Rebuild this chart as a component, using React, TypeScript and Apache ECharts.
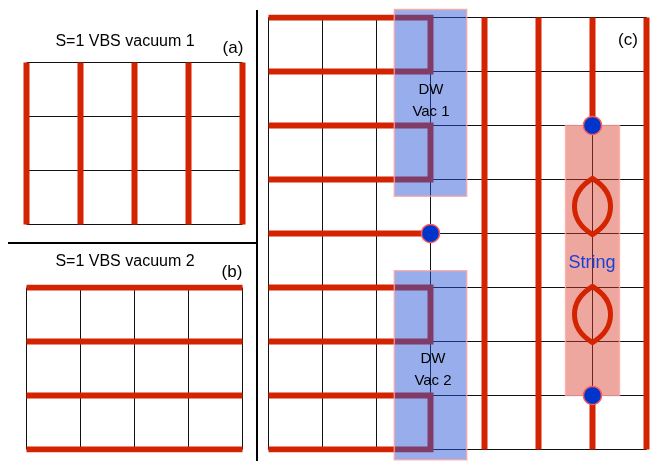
import React, { useEffect, useRef } from "react";
import * as echarts from "echarts";

// Panel (a): vacuum 1, red vertical bonds on lattice columns
const aCols = [0, 1, 2, 3, 4];
const aRows = [0, 1, 2, 3];
const aRedCols = [0, 1, 2, 3, 4];

// Panel (b): vacuum 2, red horizontal bonds on lattice rows
const bCols = [0, 1, 2, 3, 4];
const bRows = [0, 1, 2, 3];
const bRedRows = [0, 1, 2, 3];

// Panel (c): domain walls and string
const cCols = [0, 1, 2, 3, 4, 5, 6, 7];
const cRows = [0, 1, 2, 3, 4, 5, 6, 7, 8];
const cBracketPairs = [
  [0, 1],
  [2, 3],
  [5, 6],
  [7, 8],
];
const cBracketEndCol = 3;
const cOpenRow = 4; // row ending at a dot
const cRedFullCols = [4, 5, 7];
const cStringCol = 6;
const cStringRedSegments = [
  [0, 2],
  [7, 8],
];
const cDots = [
  [3, 4],
  [6, 2],
  [6, 7],
];
const cLenses = [
  [6, 3, 4],
  [6, 5, 6],
];
// [x1, y1, x2, y2]
const dwRects = [
  [2.33, -0.15, 3.67, 3.31],
  [2.33, 4.69, 3.67, 8.19],
];
const stringRects = [[5.5, 2, 6.5, 7]];

const RED = "#d42300";
const GRID = "#111";

function hLines(cols: number[], rows: number[]) {
  const x0 = Math.min(...cols);
  const x1 = Math.max(...cols);
  return rows.map((r) => ({ coords: [[x0, r], [x1, r]] }));
}
function vLines(cols: number[], rows: number[]) {
  const y0 = Math.min(...rows);
  const y1 = Math.max(...rows);
  return cols.map((c) => ({ coords: [[c, y0], [c, y1]] }));
}

function linesSeries(idx: number, data: any[], color: string, width: number, z: number) {
  return {
    type: "lines",
    coordinateSystem: "cartesian2d",
    xAxisIndex: idx,
    yAxisIndex: idx,
    polyline: true,
    silent: true,
    z,
    lineStyle: { color, width, opacity: 1, cap: "butt", join: "miter" },
    data,
  };
}

export default function App() {
  const ref = useRef<HTMLDivElement>(null);
  useEffect(() => {
    if (!ref.current) return;
    const chart = echarts.init(ref.current, null, { renderer: "svg" });

    const cRedData: any[] = [];
    cBracketPairs.forEach(([r1, r2]) => {
      cRedData.push({
        coords: [
          [0, r1],
          [cBracketEndCol, r1],
          [cBracketEndCol, r2],
          [0, r2],
        ],
      });
    });
    cRedData.push({ coords: [[0, cOpenRow], [cBracketEndCol, cOpenRow]] });
    cRedFullCols.forEach((c) => cRedData.push({ coords: [[c, 0], [c, 8]] }));
    cStringRedSegments.forEach(([y0, y1]) =>
      cRedData.push({ coords: [[cStringCol, y0], [cStringCol, y1]] })
    );

    const rectItem = (fill: string, stroke: string) => (params: any, api: any) => {
      const p1 = api.coord([api.value(0), api.value(1)]);
      const p2 = api.coord([api.value(2), api.value(3)]);
      return {
        type: "rect",
        shape: { x: p1[0], y: p1[1], width: p2[0] - p1[0], height: p2[1] - p1[1] },
        style: { fill, stroke, lineWidth: 1.5 },
      };
    };

    const font = "'Liberation Sans', Arial, sans-serif";

    chart.setOption({
      animation: false,
      grid: [
        { left: 26.5, top: 62.5, width: 216, height: 162 },
        { left: 26.5, top: 287.5, width: 216, height: 162 },
        { left: 268.5, top: 17.5, width: 378, height: 432 },
      ],
      xAxis: [
        { type: "value", gridIndex: 0, min: 0, max: 4, show: false },
        { type: "value", gridIndex: 1, min: 0, max: 4, show: false },
        { type: "value", gridIndex: 2, min: 0, max: 7, show: false },
      ],
      yAxis: [
        { type: "value", gridIndex: 0, min: 0, max: 3, inverse: true, show: false },
        { type: "value", gridIndex: 1, min: 0, max: 3, inverse: true, show: false },
        { type: "value", gridIndex: 2, min: 0, max: 8, inverse: true, show: false },
      ],
      series: [
        // panel a
        linesSeries(0, hLines(aCols, aRows), GRID, 1, 1),
        linesSeries(0, vLines(aRedCols, aRows), RED, 6, 2),
        // panel b
        linesSeries(1, vLines(bCols, bRows), GRID, 1, 1),
        linesSeries(1, hLines(bCols, bRedRows), RED, 6, 2),
        // panel c
        linesSeries(2, hLines(cCols, cRows), GRID, 1, 1),
        linesSeries(2, vLines(cCols, cRows), GRID, 1, 1),
        linesSeries(2, cRedData, RED, 6, 2),
        {
          type: "custom",
          xAxisIndex: 2,
          yAxisIndex: 2,
          z: 3,
          silent: true,
          renderItem: rectItem("rgba(215, 60, 40, 0.45)", "rgba(255, 170, 170, 0.8)"),
          data: stringRects,
        },
        {
          type: "custom",
          xAxisIndex: 2,
          yAxisIndex: 2,
          z: 3,
          silent: true,
          renderItem: rectItem("rgba(40, 85, 215, 0.48)", "rgba(255, 160, 160, 0.8)"),
          data: dwRects,
        },
        {
          type: "custom",
          xAxisIndex: 2,
          yAxisIndex: 2,
          z: 4,
          silent: true,
          renderItem: (params: any, api: any) => {
            const x = api.value(0);
            const y0 = api.value(1);
            const y1 = api.value(2);
            const top = api.coord([x, y0]);
            const bot = api.coord([x, y1]);
            const h = bot[1] - top[1];
            const w = 24;
            const c1 = top[1] + h * 0.25;
            const c2 = top[1] + h * 0.75;
            const d = `M${top[0]} ${top[1] - 1} C${top[0] - w} ${c1} ${top[0] - w} ${c2} ${bot[0]} ${bot[1] + 1} C${top[0] + w} ${c2} ${top[0] + w} ${c1} ${top[0]} ${top[1] - 1} Z`;
            return {
              type: "path",
              shape: { pathData: d },
              style: { fill: "none", stroke: RED, lineWidth: 5, lineJoin: "miter" },
            };
          },
          data: cLenses,
        },
        {
          type: "scatter",
          xAxisIndex: 2,
          yAxisIndex: 2,
          z: 5,
          silent: true,
          symbol: "circle",
          symbolSize: 18,
          itemStyle: { color: "#0035cc", borderColor: "#ff5a5a", borderWidth: 1.5, opacity: 1 },
          data: cDots,
        },
      ],
      graphic: [
        { type: "line", shape: { x1: 8, y1: 243, x2: 257, y2: 243 }, style: { stroke: "#000", lineWidth: 2 }, z: 10 },
        { type: "line", shape: { x1: 257, y1: 10, x2: 257, y2: 461 }, style: { stroke: "#000", lineWidth: 2 }, z: 10 },
        { type: "text", x: 125, y: 40, style: { text: "S=1 VBS vacuum 1", font: `16px ${font}`, fill: "#000", textAlign: "center", textVerticalAlign: "middle" }, z: 10 },
        { type: "text", x: 233, y: 47, style: { text: "(a)", font: `17px ${font}`, fill: "#000", textAlign: "center", textVerticalAlign: "middle" }, z: 10 },
        { type: "text", x: 125, y: 260, style: { text: "S=1 VBS vacuum 2", font: `16px ${font}`, fill: "#000", textAlign: "center", textVerticalAlign: "middle" }, z: 10 },
        { type: "text", x: 232, y: 271, style: { text: "(b)", font: `17px ${font}`, fill: "#000", textAlign: "center", textVerticalAlign: "middle" }, z: 10 },
        { type: "text", x: 628, y: 39, style: { text: "(c)", font: `17px ${font}`, fill: "#000", textAlign: "center", textVerticalAlign: "middle" }, z: 10 },
        { type: "text", x: 431, y: 88, style: { text: "DW", font: `15px ${font}`, fill: "#000", textAlign: "center", textVerticalAlign: "middle" }, z: 10 },
        { type: "text", x: 431, y: 110, style: { text: "Vac 1", font: `15px ${font}`, fill: "#000", textAlign: "center", textVerticalAlign: "middle" }, z: 10 },
        { type: "text", x: 433, y: 357, style: { text: "DW", font: `15px ${font}`, fill: "#000", textAlign: "center", textVerticalAlign: "middle" }, z: 10 },
        { type: "text", x: 433, y: 379, style: { text: "Vac 2", font: `15px ${font}`, fill: "#000", textAlign: "center", textVerticalAlign: "middle" }, z: 10 },
        { type: "text", x: 592, y: 262, style: { text: "String", font: `18px ${font}`, fill: "#1a3fd9", textAlign: "center", textVerticalAlign: "middle" }, z: 10 },
      ],
    });
    return () => chart.dispose();
  }, []);
  return <div ref={ref} style={{ width: 650, height: 461, position: "fixed", left: 0, top: 0 }} />;
}
